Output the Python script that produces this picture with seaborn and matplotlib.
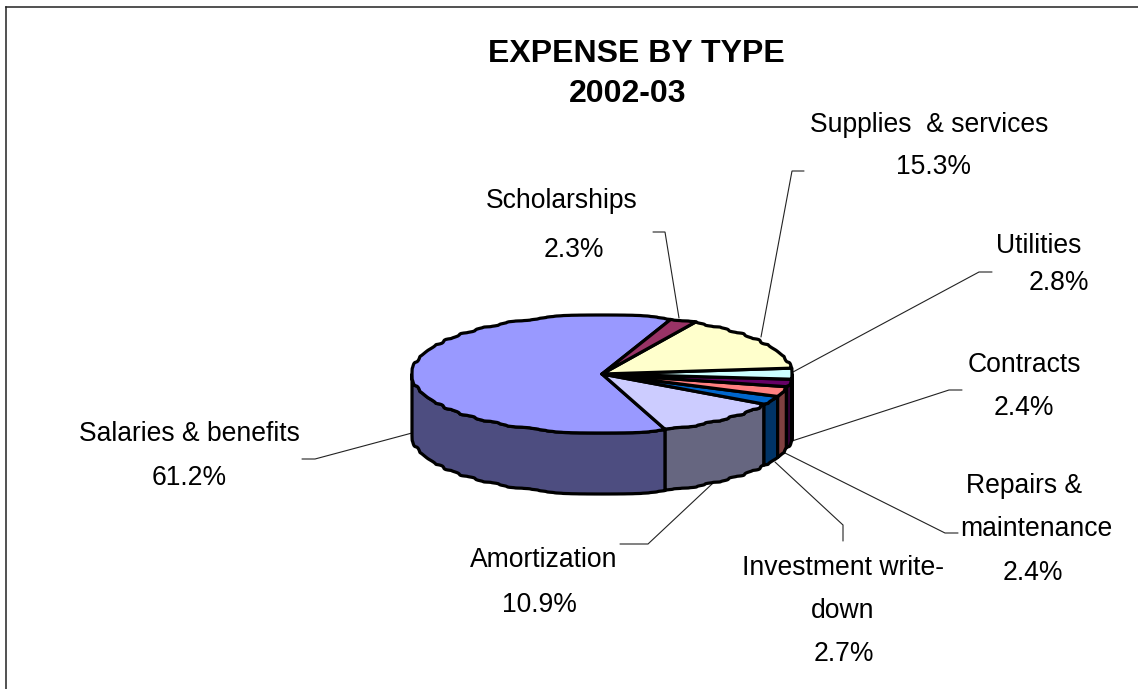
import numpy as np
import seaborn as sns
import matplotlib
matplotlib.use("Agg")
import matplotlib.pyplot as plt
from matplotlib.patches import Polygon

# Slices in counter-clockwise drawing order
categories = ["Salaries & benefits", "Amortization", "Investment write-down",
              "Repairs & maintenance", "Contracts", "Utilities",
              "Supplies & services", "Scholarships"]
shares = [61.2, 10.9, 2.7, 2.4, 2.4, 2.8, 15.3, 2.3]
top_colors = ["#9999FF", "#CCCCFF", "#0066CC", "#FF8080",
              "#660066", "#CCFFFF", "#FFFFCC", "#993366"]
side_colors = ["#4D4D80", "#666680", "#003366", "#804040",
               "#330033", "#668080", "#808066", "#4D1A33"]

# Label text, split across lines the way each one wraps
label_lines = [["Salaries & benefits"], ["Amortization"],
               ["Investment write-", "down"], ["Repairs &", "maintenance"],
               ["Contracts"], ["Utilities"], ["Supplies  & services"],
               ["Scholarships"]]

# Baseline and centre of every label line, percentage last
label_layout = [
    [(189, 441), (189, 485)],
    [(544, 567), (539, 612)],
    [(843, 575), (843, 618), (844, 661)],
    [(1024, 493), (1036, 536), (1033, 580)],
    [(1024, 372), (1024, 415)],
    [(1039, 253), (1059, 290)],
    [(929, 132), (934, 174)],
    [(562, 208), (574, 257)],
]

# Leader line vertices for each slice
leaders = [
    [(412, 433), (315, 459), (302, 459)],
    [(712, 484), (648, 544), (620, 544)],
    [(775, 462), (843, 525), (843, 541)],
    [(783, 452), (945, 533), (958, 533)],
    [(792, 441), (949, 390), (962, 390)],
    [(793, 372), (979, 272), (992, 272)],
    [(761, 337), (792, 171), (804, 171)],
    [(679, 318), (665, 232), (653, 232)],
]

CX, CY, RX, RY, DEPTH = 602, 374, 190, 59, 61
START_ANGLE = 69
STEP_X, STEP_Y = RX / 24, RY / 10
OUTLINE = 2.3


def stepped(v, step):
    # Smooth staircase that gives the rim its coarse, wavy look
    return v - 0.7 * step / (2 * np.pi) * np.sin(2 * np.pi * v / step)


def rim(theta_deg, drop=0):
    t = np.radians(theta_deg)
    x = CX + stepped(RX * np.cos(t), STEP_X)
    y = CY - stepped(RY * np.sin(t), STEP_Y) + drop
    return np.column_stack([x, y])


sns.set_theme(style="white")
plt.rcParams["font.family"] = ["Liberation Sans", "DejaVu Sans"]

W, H = 1138, 689
LEFT, TOP = 5.5, 6.5
fig = plt.figure(figsize=(W / 100, H / 100), dpi=100, facecolor="white")
ax = fig.add_axes([LEFT / W, 0, 1 - LEFT / W, 1 - TOP / H])
ax.set_xlim(LEFT, W)
ax.set_ylim(H, TOP)
ax.set_xticks([])
ax.set_yticks([])
sns.despine(ax=ax, top=False, left=False, right=True, bottom=True)
for side in ("left", "top"):
    ax.spines[side].set_color("#222222")
    ax.spines[side].set_linewidth(1.1)

edges = START_ANGLE + np.concatenate([[0], np.cumsum(shares)]) * 3.6

# Leader lines sit beneath the pie
for path in leaders:
    xs, ys = zip(*path)
    ax.plot(xs, ys, color="#222222", lw=0.8, zorder=1, solid_joinstyle="miter")

# Visible wall: the lower half of the ellipse only
for a, b, col in zip(edges[:-1], edges[1:], side_colors):
    for lo, hi in [(a, b), (a - 360, b - 360)]:
        s, e = max(lo, 180), min(hi, 360)
        if e <= s:
            continue
        th = np.linspace(s, e, 200)
        pts = np.vstack([rim(th), rim(th[::-1], DEPTH)])
        ax.add_patch(Polygon(pts, closed=True, facecolor=col, edgecolor="black",
                             lw=OUTLINE, joinstyle="round", zorder=2))

# Top face of each slice
for a, b, col in zip(edges[:-1], edges[1:], top_colors):
    th = np.linspace(a, b, 300)
    pts = np.vstack([[CX, CY], rim(th)])
    ax.add_patch(Polygon(pts, closed=True, facecolor=col, edgecolor="black",
                         lw=OUTLINE, joinstyle="round", zorder=3))

# Labels
for lines, value, layout in zip(label_lines, shares, label_layout):
    for text, (x, y) in zip(lines + [f"{value}%"], layout):
        ax.text(x, y, text, fontsize=19.1, ha="center", va="baseline",
                color="black", zorder=4)

for text, x, y in [("EXPENSE BY TYPE", 636, 62), ("2002-03", 628, 102)]:
    ax.text(x, y, text, fontsize=23, fontweight="bold", ha="center",
            va="baseline", color="black", zorder=4)

fig.savefig("out.png", dpi=100, facecolor="white")
